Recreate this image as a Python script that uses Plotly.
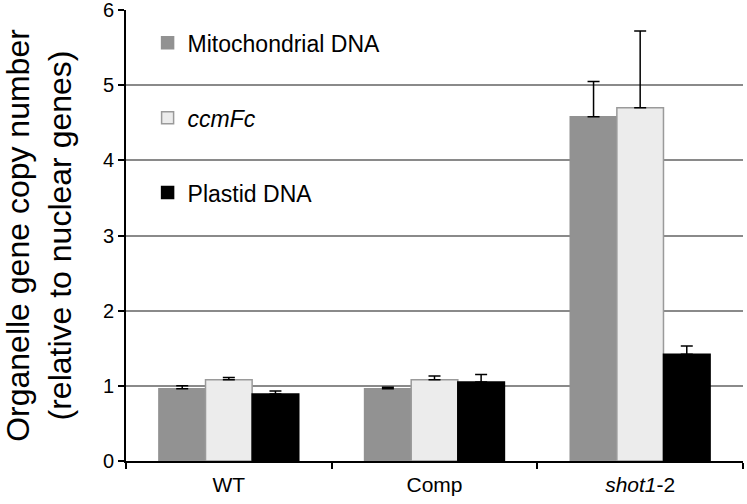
import plotly.graph_objects as go

categories = ["WT", "Comp", "<i>shot1</i>-2"]
series_names = ["Mitochondrial DNA", "<i>ccmFc</i>", "Plastid DNA"]
mito = [0.96, 0.96, 4.58]
mito_err = [0.04, 0.02, 0.47]
ccmfc = [1.08, 1.08, 4.70]
ccmfc_err = [0.03, 0.05, 1.02]
plastid = [0.89, 1.05, 1.42]
plastid_err = [0.04, 0.10, 0.11]
y_ticks = [0, 1, 2, 3, 4, 5, 6]

fills = ["#929292", "#ececec", "#000000"]
lines = ["#929292", "#9a9a9a", "#000000"]

fig = go.Figure()
for i, (name, vals, errs) in enumerate(zip(series_names, [mito, ccmfc, plastid], [mito_err, ccmfc_err, plastid_err])):
    fig.add_trace(go.Bar(
        x=categories, y=vals, name=name, legendgroup=str(i),
        marker=dict(color=fills[i], line=dict(color=lines[i], width=1.5)),
        error_y=dict(type="data", array=errs, arrayminus=[0]*len(errs), symmetric=False,
                     color="black", thickness=1.5, width=6),
    ))

fig.update_layout(
    width=747, height=504,
    margin=dict(l=126, r=4, t=10, b=43),
    paper_bgcolor="white", plot_bgcolor="white",
    barmode="group", bargap=0.32, bargroupgap=0,
    font=dict(family="Arial, Liberation Sans, sans-serif", size=19, color="black"),
    legend=dict(x=0.035, y=0.975, xanchor="left", yanchor="top", bgcolor="rgba(0,0,0,0)",
                tracegroupgap=42, font=dict(size=23)),
    xaxis=dict(showline=True, linecolor="black", linewidth=2, ticks="outside", tickson="boundaries",
               ticklen=6, tickwidth=2, tickcolor="black", showgrid=False,
               tickfont=dict(size=21), automargin=False, ticklabelstandoff=4),
    yaxis=dict(range=[0, 6], tickvals=y_ticks, showline=True, linecolor="black", linewidth=2,
               ticks="outside", ticklen=6, tickwidth=2, tickcolor="black",
               showgrid=True, gridcolor="#8a8a8a", gridwidth=2, zeroline=False,
               tickfont=dict(size=20), automargin=False, ticklabeloverflow="allow",
               title=dict(text="Organelle gene copy number<br>(relative to nuclear genes)",
                          font=dict(size=32), standoff=30)),
)

fig.write_html("out.html", config={"displayModeBar": False})

with open("out.html", "r", encoding="utf-8") as f:
    html = f.read()
html = html.replace("<head>", "<head><style>html,body{margin:0;padding:0;overflow:hidden;}</style>", 1)
with open("out.html", "w", encoding="utf-8") as f:
    f.write(html)
